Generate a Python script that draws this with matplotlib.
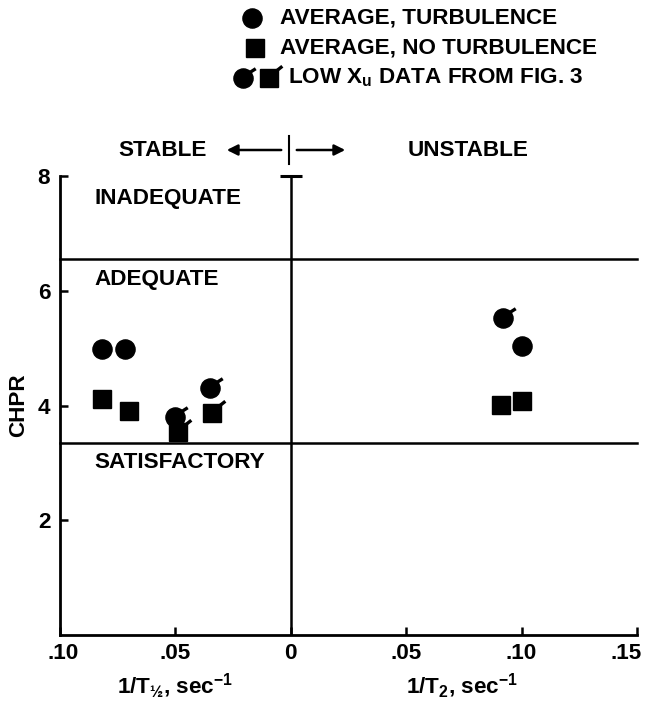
import matplotlib
matplotlib.use("Agg")
import matplotlib.pyplot as plt
from matplotlib.path import Path
from matplotlib.transforms import ScaledTranslation
import numpy as np

plt.rcParams['font.family'] = ['Liberation Sans', 'DejaVu Sans']
plt.rcParams['font.weight'] = 'bold'
plt.rcParams['mathtext.fontset'] = 'custom'
plt.rcParams['mathtext.rm'] = 'Liberation Sans:bold'
plt.rcParams['mathtext.it'] = 'Liberation Sans:bold'
plt.rcParams['mathtext.bf'] = 'Liberation Sans:bold'

# ---- data (x < 0: stable side 1/T_1/2 ; x > 0: unstable side 1/T_2) ----
turb_x = [-0.082, -0.072, 0.100]
turb_y = [4.99, 4.99, 5.03]
noturb_x = [-0.082, -0.070, 0.091, 0.100]
noturb_y = [4.12, 3.91, 4.01, 4.07]
lowxu_turb_x = [-0.050, -0.035, 0.092]
lowxu_turb_y = [3.80, 4.31, 5.53]
lowxu_noturb_x = [-0.049, -0.034]
lowxu_noturb_y = [3.53, 3.87]

boundaries = [3.35, 6.55]
region_labels = ['SATISFACTORY', 'ADEQUATE', 'INADEQUATE']
region_label_y = [3.0, 6.2, 7.6]
xticks = [-0.10, -0.05, 0.0, 0.05, 0.10, 0.15]
xticklabels = ['.10', '.05', '0', '.05', '.10', '.15']
yticks = [2, 4, 6, 8]

FS = 16.2
W, H = 650, 706
fig = plt.figure(figsize=(W / 100, H / 100), dpi=100)
ax = fig.add_axes([60 / W, 1 - 635 / H, (637 - 60) / W, (635 - 176) / H])
ax.set_xlim(-0.10, 0.15)
ax.set_ylim(0, 8)

for s in ['top', 'right']:
    ax.spines[s].set_visible(False)
for s in ['left', 'bottom']:
    ax.spines[s].set_linewidth(2.0)

ax.set_xticks(xticks)
ax.set_xticklabels(xticklabels)
ax.set_yticks(yticks)
ax.tick_params(axis='both', direction='in', length=6, width=1.8,
               labelsize=FS, pad=6)
ax.tick_params(axis='y', pad=7)
for lab in ax.get_xticklabels() + ax.get_yticklabels():
    lab.set_fontweight('bold')
xl = ax.get_xticklabels()
xl[-1].set_transform(xl[-1].get_transform() + ScaledTranslation(-11 / 100, 0, fig.dpi_scale_trans))
xl[0].set_transform(xl[0].get_transform() + ScaledTranslation(3 / 100, 0, fig.dpi_scale_trans))

# boundaries
for b in boundaries:
    ax.axhline(b, color='black', lw=1.8, clip_on=False)
ax.axvline(0, color='black', lw=1.8)
ax.plot([0], [8], marker='_', ms=16, mew=2.2, color='black', clip_on=False)

for lab, ly in zip(region_labels, region_label_y):
    ax.text(-0.085, ly, lab, fontsize=FS, fontweight='bold', va='center', ha='left')

# flag markers (short stroke up-right from marker edge)
flag_path = Path([(-1, -1), (0.36, 0.36), (0.80, 0.64)],
                 [Path.MOVETO, Path.MOVETO, Path.LINETO])
sq_flag_path = Path([(-1, -1), (0.46, 0.50), (0.84, 0.80)],
                    [Path.MOVETO, Path.MOVETO, Path.LINETO])

ms_c = 13.8
ms_s = 13.2
ax.plot(turb_x, turb_y, 'o', color='black', ms=ms_c, ls='none')
ax.plot(noturb_x, noturb_y, 's', color='black', ms=ms_s, ls='none')
ax.plot(lowxu_turb_x, lowxu_turb_y, 'o', color='black', ms=ms_c, ls='none')
ax.plot(lowxu_turb_x, lowxu_turb_y, marker=flag_path, color='black', ms=22,
        mew=2.4, ls='none')
ax.plot(lowxu_noturb_x, lowxu_noturb_y, 's', color='black', ms=ms_s, ls='none')
ax.plot(lowxu_noturb_x, lowxu_noturb_y, marker=sq_flag_path, color='black', ms=22,
        mew=2.4, ls='none')

ax.set_ylabel('CHPR', fontsize=FS, fontweight='bold', labelpad=6)

# x axis labels
fig.text(175 / W, 1 - 686 / H, r'1/T$_{½}$, sec$^{-1}$', fontsize=FS,
         fontweight='bold', ha='center', va='center')
fig.text(462 / W, 1 - 686 / H, r'1/T$_{2}$, sec$^{-1}$', fontsize=FS,
         fontweight='bold', ha='center', va='center')

# STABLE / UNSTABLE header
fig.text(163 / W, 1 - 151 / H, 'STABLE', fontsize=FS, fontweight='bold',
         ha='center', va='center')
fig.text(468 / W, 1 - 151 / H, 'UNSTABLE', fontsize=FS, fontweight='bold',
         ha='center', va='center')
hdr = fig.add_axes([0, 0, 1, 1], facecolor='none')
hdr.set_xlim(0, W)
hdr.set_ylim(H, 0)
hdr.axis('off')
hdr.annotate('', xy=(224, 150), xytext=(284, 150),
             arrowprops=dict(arrowstyle='-|>', color='black', lw=1.8,
                             mutation_scale=16))
hdr.annotate('', xy=(348, 150), xytext=(294, 150),
             arrowprops=dict(arrowstyle='-|>', color='black', lw=1.8,
                             mutation_scale=16))
hdr.plot([289, 289], [136, 164], color='black', lw=1.5)

# legend
leg_y = [18, 48, 78]
hdr.plot([252], [leg_y[0]], 'o', color='black', ms=ms_c)
hdr.plot([255], [leg_y[1]], 's', color='black', ms=ms_s)
hdr.plot([243], [leg_y[2]], 'o', color='black', ms=ms_c)
hdr.plot([243], [leg_y[2]], marker=flag_path, color='black', ms=22, mew=2.4)
hdr.plot([269], [leg_y[2]], 's', color='black', ms=ms_s)
hdr.plot([269], [leg_y[2]], marker=sq_flag_path, color='black', ms=22, mew=2.4)
legend_labels = ['AVERAGE, TURBULENCE', 'AVERAGE, NO TURBULENCE',
                 r'LOW X$_{\mathrm{u}}$ DATA FROM FIG. 3']
legend_x = [280, 280, 288]
for lx, ly, t in zip(legend_x, leg_y, legend_labels):
    hdr.text(lx, ly, t, fontsize=FS, fontweight='bold', ha='left', va='center')

fig.savefig('out.png', dpi=100)
